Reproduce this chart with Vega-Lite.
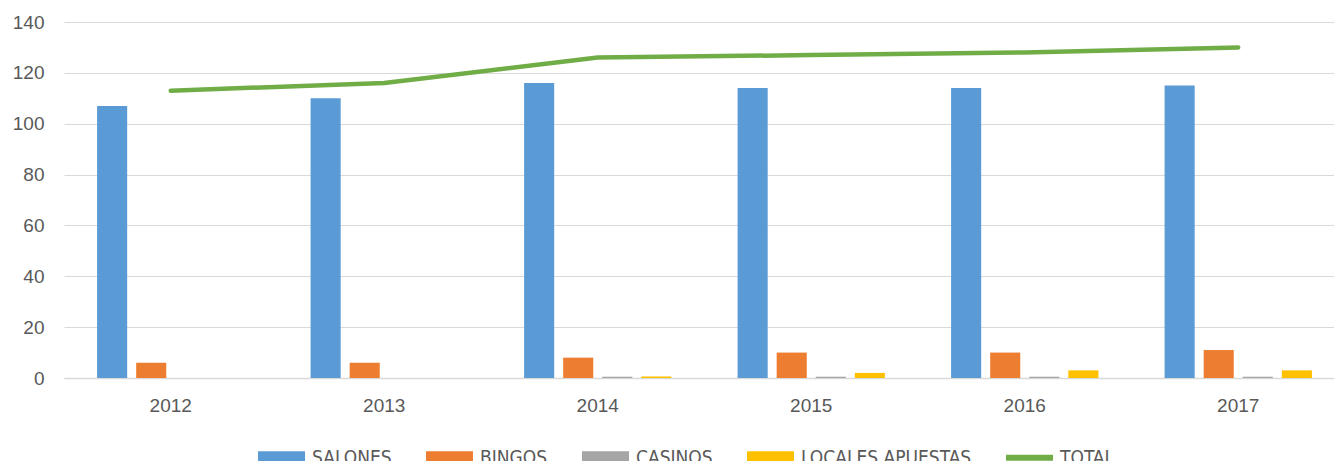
{
  "$schema": "https://vega.github.io/schema/vega-lite/v6.json",
  "autosize": "none",
  "width": 1270,
  "height": 356,
  "padding": {"left": 64, "top": 22, "right": 0, "bottom": 83},
  "background": "white",
  "config": {
    "view": {"stroke": null},
    "font": "Liberation Sans",
    "axis": {"labelColor": "#595959", "labelFontSize": 19, "ticks": false, "title": null}
  },
  "datasets": {
    "bars": [
      {"year": "2012", "serie": "SALONES", "value": 107},
      {"year": "2012", "serie": "BINGOS", "value": 6},
      {"year": "2012", "serie": "CASINOS", "value": 0},
      {"year": "2012", "serie": "LOCALES APUESTAS", "value": 0},
      {"year": "2013", "serie": "SALONES", "value": 110},
      {"year": "2013", "serie": "BINGOS", "value": 6},
      {"year": "2013", "serie": "CASINOS", "value": 0},
      {"year": "2013", "serie": "LOCALES APUESTAS", "value": 0},
      {"year": "2014", "serie": "SALONES", "value": 116},
      {"year": "2014", "serie": "BINGOS", "value": 8},
      {"year": "2014", "serie": "CASINOS", "value": 0.5},
      {"year": "2014", "serie": "LOCALES APUESTAS", "value": 0.6},
      {"year": "2015", "serie": "SALONES", "value": 114},
      {"year": "2015", "serie": "BINGOS", "value": 10},
      {"year": "2015", "serie": "CASINOS", "value": 0.5},
      {"year": "2015", "serie": "LOCALES APUESTAS", "value": 2},
      {"year": "2016", "serie": "SALONES", "value": 114},
      {"year": "2016", "serie": "BINGOS", "value": 10},
      {"year": "2016", "serie": "CASINOS", "value": 0.5},
      {"year": "2016", "serie": "LOCALES APUESTAS", "value": 3},
      {"year": "2017", "serie": "SALONES", "value": 115},
      {"year": "2017", "serie": "BINGOS", "value": 11},
      {"year": "2017", "serie": "CASINOS", "value": 0.5},
      {"year": "2017", "serie": "LOCALES APUESTAS", "value": 3}
    ],
    "total": [
      {"year": "2012", "serie": "TOTAL", "value": 113},
      {"year": "2013", "serie": "TOTAL", "value": 116},
      {"year": "2014", "serie": "TOTAL", "value": 126},
      {"year": "2015", "serie": "TOTAL", "value": 127},
      {"year": "2016", "serie": "TOTAL", "value": 128},
      {"year": "2017", "serie": "TOTAL", "value": 130}
    ]
  },
  "encoding": {
    "x": {
      "field": "year",
      "type": "nominal",
      "scale": {"range": [0, 1281], "paddingInner": 0.31, "paddingOuter": 0.155},
      "axis": {"labelAngle": 0, "labelPadding": 18, "domainColor": "#D9D9D9", "domainWidth": 1.5, "grid": false}
    },
    "y": {
      "field": "value",
      "type": "quantitative",
      "scale": {"domain": [0, 140]},
      "axis": {"values": [0, 20, 40, 60, 80, 100, 120, 140], "domain": false, "gridColor": "#D9D9D9", "gridWidth": 1.2, "labelPadding": 20}
    },
    "color": {
      "field": "serie",
      "type": "nominal",
      "scale": {
        "domain": ["SALONES", "BINGOS", "CASINOS", "LOCALES APUESTAS", "TOTAL"],
        "range": ["#5B9BD5", "#ED7D31", "#A5A5A5", "#FFC000", "#70AD47"]
      },
      "legend": {
        "title": null,
        "orient": "none",
        "direction": "horizontal",
        "legendX": 194,
        "legendY": 412,
        "symbolSize": 2209,
        "symbolType": "M-1,-0.277H1V0.277H-1Z",
        "labelFont": "DejaVu Sans Condensed, Liberation Sans, sans-serif",
        "labelFontSize": 19,
        "labelColor": "#595959",
        "labelOffset": 7,
        "labelLimit": 400,
        "columnPadding": 34,
        "encode": {
          "symbols": {
            "update": {
              "shape": {"signal": "datum.value === 'TOTAL' ? 'M-1,-0.128H1V0.128H-1Z' : 'M-1,-0.277H1V0.277H-1Z'"},
              "fill": {"signal": "scale('color', datum.value)"},
              "stroke": {"value": "transparent"},
              "strokeWidth": {"value": 0},
              "opacity": {"value": 1}
            }
          }
        }
      }
    }
  },
  "layer": [
    {
      "data": {"name": "bars"},
      "mark": {"type": "bar"},
      "encoding": {
        "xOffset": {
          "field": "serie",
          "type": "nominal",
          "scale": {"domain": ["SALONES", "BINGOS", "CASINOS", "LOCALES APUESTAS"], "paddingInner": 0.23, "paddingOuter": 0}
        }
      }
    },
    {
      "data": {"name": "total"},
      "mark": {"type": "line", "strokeWidth": 4.5, "strokeCap": "round", "strokeJoin": "round"},
      "encoding": {}
    }
  ]
}
